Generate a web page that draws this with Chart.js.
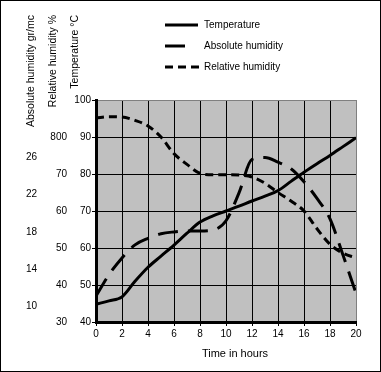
<!DOCTYPE html>
<html>
<head>
<meta charset="utf-8">
<script src="https://cdn.jsdelivr.net/npm/chart.js@4.4.1/dist/chart.umd.min.js"></script>
<style>
  html, body { margin: 0; padding: 0; background: #fff; }
</style>
</head>
<body>
<canvas id="chart" width="381" height="372"></canvas>
<script>
const hours = [0, 1, 2, 3, 4, 5, 6, 7, 8, 9, 10, 11, 12, 13, 14, 15, 16, 17, 18, 19, 20];
const temperature = [44.8, 45.7, 46.8, 51, 54.8, 57.8, 60.8, 64, 67, 68.7, 70, 71.3, 72.7, 74, 75.5, 78, 80.5, 82.8, 85, 87.4, 89.8]; // °C
const absoluteHumidity = [11.1, 13.4, 15.2, 16.6, 17.3, 17.8, 18.0, 18.1, 18.1, 18.2, 19.2, 22.2, 25.8, 26.0, 25.5, 24.8, 23.4, 21.6, 19.4, 15.5, 11.4]; // gr/mc
const relativeHumidity = [85.1, 85.5, 85.4, 84.5, 83, 80, 75.5, 72.6, 70.2, 69.8, 69.8, 69.7, 69.2, 67.5, 65, 62.7, 60, 55.2, 51, 48.6, 47.3]; // %

const relTicks = [30, 40, 50, 60, 70, 80];
const relTickLabels = ['30', '40', '50', '60', '70', '800'];
const absTicks = [10, 14, 18, 22, 26];

const FONT = '"Liberation Sans", Arial, sans-serif';
Chart.defaults.font.family = FONT;
Chart.defaults.color = '#000';

// grey frame on the top / right edge, black grid everywhere else
const gridColor = edge => ctx => (ctx.tick && ctx.tick.value === edge) ? '#808080' : '#000';

const plotBackground = {
    id: 'plotBackground',
    beforeDraw(chart) {
        const { ctx, chartArea: a } = chart;
        ctx.save();
        ctx.fillStyle = '#c0c0c0';
        ctx.fillRect(a.left, a.top, a.width, a.height);
        ctx.restore();
    }
};

// legend stacked in a column, axis titles above the axes, outer frame
const decorations = {
    id: 'decorations',
    afterDraw(chart) {
        const ctx = chart.ctx;
        ctx.save();
        ctx.strokeStyle = '#000';
        ctx.lineWidth = 1;
        ctx.strokeRect(0.5, 0.5, chart.width - 1, chart.height - 1);

        chart.data.datasets.forEach((ds, i) => {
            const opts = chart.getDatasetMeta(i).dataset.options;
            const dash = opts.borderDash || [];
            const y = 25 + i * 21;
            // end the sample on a whole dash
            let len = 33;
            if (dash.length) {
                const period = dash[0] + dash[1];
                len = Math.max(1, Math.round((33 + dash[1]) / period)) * period - dash[1];
            }
            ctx.save();
            ctx.strokeStyle = opts.borderColor;
            ctx.lineWidth = opts.borderWidth;
            ctx.setLineDash(dash);
            ctx.beginPath();
            ctx.moveTo(165, y);
            ctx.lineTo(165 + len, y);
            ctx.stroke();
            ctx.restore();
            ctx.fillStyle = '#000';
            ctx.font = '10px ' + FONT;
            ctx.textAlign = 'left';
            ctx.textBaseline = 'middle';
            ctx.fillText(ds.label, 204, y);
        });

        ctx.font = '10.5px ' + FONT;
        ctx.fillStyle = '#000';
        ctx.textBaseline = 'middle';
        [['yAbs', 31], ['yRel', 53], ['yTemp', 75]].forEach(([id, x]) => {
            ctx.save();
            ctx.translate(x, 15);
            ctx.rotate(-Math.PI / 2);
            ctx.textAlign = 'right';
            ctx.fillText(chart.scales[id].options.title.text, 0, 0);
            ctx.restore();
        });

        ctx.font = '11px ' + FONT;
        ctx.textAlign = 'center';
        ctx.fillText(chart.scales.x.options.title.text, 235, 354);
        ctx.restore();
    }
};

const toPoints = values => hours.map((h, i) => ({ x: h, y: values[i] }));

new Chart(document.getElementById('chart'), {
    type: 'line',
    data: {
        datasets: [{
            label: 'Temperature',
            data: toPoints(temperature),
            yAxisID: 'yTemp',
            borderDash: []
        }, {
            label: 'Absolute humidity',
            data: toPoints(absoluteHumidity),
            yAxisID: 'yAbs',
            borderDash: [20, 10]
        }, {
            label: 'Relative humidity',
            data: toPoints(relativeHumidity),
            yAxisID: 'yRel',
            borderDash: [8, 5]
        }]
    },
    options: {
        responsive: false,
        animation: false,
        devicePixelRatio: 1,
        layout: { padding: { left: 10, right: 25, top: 100, bottom: 0 } },
        elements: {
            line: {
                borderColor: '#000',
                borderWidth: 3,
                cubicInterpolationMode: 'monotone',
                borderCapStyle: 'butt',
                fill: false
            },
            point: { radius: 0, hoverRadius: 0 }
        },
        plugins: {
            legend: { display: false },
            tooltip: { enabled: false }
        },
        scales: {
            x: {
                type: 'linear',
                min: 0,
                max: 20,
                ticks: { stepSize: 2, font: { size: 10 }, padding: 2, maxRotation: 0 },
                grid: { color: gridColor(20), tickColor: '#000', tickLength: 4, lineWidth: 1 },
                border: { color: '#000', width: 3 },
                title: { display: false, text: 'Time in hours' },
                afterFit: s => { s.height = 50; }
            },
            yTemp: {
                type: 'linear',
                position: 'left',
                weight: 1,
                min: 40,
                max: 100,
                ticks: { stepSize: 10, font: { size: 10 }, padding: 1 },
                grid: { color: gridColor(100), tickColor: '#000', tickLength: 4, lineWidth: 1 },
                border: { color: '#000', width: 3 },
                title: { display: false, text: 'Temperature °C' },
                afterFit: s => { s.width = 26; }
            },
            yRel: {
                type: 'linear',
                position: 'left',
                weight: 2,
                min: 30,
                max: 90,
                afterBuildTicks: s => { s.ticks = relTicks.map(v => ({ value: v })); },
                ticks: { font: { size: 10 }, padding: 3, callback: (v, i) => relTickLabels[i] },
                grid: { display: false, drawTicks: false },
                border: { display: false },
                title: { display: false, text: 'Relative humidity %' },
                afterFit: s => { s.width = 26; }
            },
            yAbs: {
                type: 'linear',
                position: 'left',
                weight: 3,
                min: 8.3,
                max: 32.2,
                afterBuildTicks: s => { s.ticks = absTicks.map(v => ({ value: v })); },
                ticks: { font: { size: 10 }, padding: 7 },
                grid: { display: false, drawTicks: false },
                border: { display: false },
                title: { display: false, text: 'Absolute humidity gr/mc' },
                afterFit: s => { s.width = 34; }
            }
        }
    },
    plugins: [plotBackground, decorations]
});
</script>
</body>
</html>
